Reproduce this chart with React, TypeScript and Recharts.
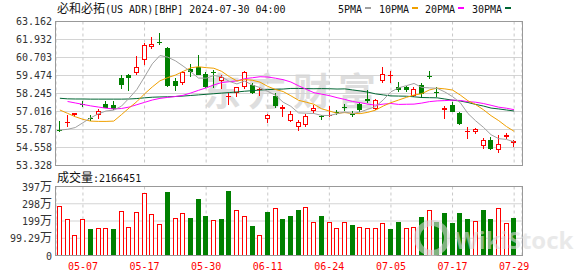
import { ComposedChart, Bar, Line, XAxis, YAxis, CartesianGrid } from 'recharts';

// BHP US ADR daily, 2024-05-02 .. 2024-07-29
const dates = [
  '05-02', '05-03', '05-06', '05-07', '05-08', '05-09', '05-10', '05-13', '05-14', '05-15',
  '05-16', '05-17', '05-20', '05-21', '05-22', '05-23', '05-24', '05-28', '05-29', '05-30',
  '05-31', '06-03', '06-04', '06-05', '06-06', '06-07', '06-10', '06-11', '06-12', '06-13',
  '06-14', '06-17', '06-18', '06-20', '06-21', '06-24', '06-25', '06-26', '06-27', '06-28',
  '07-01', '07-02', '07-03', '07-05', '07-08', '07-09', '07-10', '07-11', '07-12', '07-15',
  '07-16', '07-17', '07-18', '07-19', '07-22', '07-23', '07-24', '07-25', '07-26', '07-29',
];

const opens = [
  55.75, 56.28, 56.8, 57.55, 56.6, 56.8, 57.53, 57.44, 59.3, 59.49,
  59.62, 60.53, 61.44, 61.76, 61.35, 59.12, 58.94, 59.94, 60.08, 59.58,
  59.71, 59.12, 57.99, 58.3, 58.71, 58.85, 58.48, 56.48, 58.07, 57.17,
  56.39, 55.94, 56.12, 57.07, 56.71, 56.74, 56.98, 57.32, 56.84, 57.53,
  57.89, 57.21, 59.08, 59.49, 58.67, 58.67, 58.07, 58.8, 59.41, 58.37,
  57.12, 57.44, 56.93, 55.64, 55.62, 54.66, 55.07, 54.39, 55.25, 54.84,
];
const highs = [
  56.35, 56.76, 56.93, 57.71, 56.8, 57.21, 57.75, 57.75, 59.49, 59.58,
  60.8, 61.67, 62.08, 62.36, 61.4, 59.3, 59.76, 60.26, 60.85, 59.71,
  59.85, 59.49, 58.26, 58.71, 59.8, 58.94, 58.62, 56.84, 58.26, 57.44,
  57.03, 56.44, 56.84, 57.44, 56.8, 57.39, 57.12, 57.53, 57.03, 57.62,
  58.48, 57.89, 60.03, 59.76, 59.03, 58.76, 58.71, 58.98, 59.76, 58.67,
  57.39, 57.67, 56.98, 55.94, 55.89, 55.21, 55.25, 55.39, 55.57, 55.07,
];
const lows = [
  55.62, 55.98, 56.66, 57.3, 56.39, 56.48, 57.23, 57.12, 58.57, 58.4,
  59.49, 60.21, 61.3, 61.54, 58.7, 58.4, 58.85, 59.39, 59.49, 58.62,
  58.62, 58.53, 57.44, 58.03, 58.53, 58.21, 58.07, 56.25, 57.25, 56.66,
  56.3, 55.71, 55.98, 56.89, 56.44, 56.66, 56.76, 57.07, 56.66, 56.98,
  57.58, 57.12, 58.94, 58.94, 58.35, 58.35, 57.99, 57.94, 59.21, 58.03,
  56.52, 56.98, 56.12, 55.16, 55.48, 54.48, 54.39, 54.2, 55.16, 54.61,
];
const closes = [
  55.67, 56.31, 56.89, 57.5, 56.55, 57.07, 57.26, 57.17, 58.85, 59.3,
  60.03, 61.54, 61.62, 61.71, 58.74, 58.78, 59.74, 59.7, 59.53, 58.71,
  59.67, 59.39, 58.07, 58.67, 59.71, 58.26, 58.53, 56.8, 57.36, 57.3,
  56.84, 56.3, 56.71, 57.26, 56.64, 56.78, 56.92, 57.28, 56.8, 57.12,
  57.75, 57.8, 59.58, 59.53, 58.48, 58.5, 58.57, 58.21, 59.37, 58.33,
  57.26, 56.98, 56.16, 55.68, 55.8, 55.07, 54.43, 54.8, 55.43, 54.98,
];
// close of the session before 05-02, only used to colour the first volume bar
const prevClose = 55.5;

const volumes = [
  2850000, 2080000, 1160000, 2080000, 1520000, 1560000, 1560000, 1520000, 2560000, 1640000,
  2490000, 3590000, 2370000, 1790000, 3660000, 2140000, 2430000, 2140000, 3260000, 2280000,
  2040000, 2100000, 3720000, 2620000, 2280000, 1700000, 1160000, 2510000, 2720000, 2100000,
  2280000, 2620000, 2780000, 1910000, 2280000, 1910000, 1560000, 1910000, 1740000, 1620000,
  1560000, 1560000, 1850000, 1520000, 1930000, 1560000, 1620000, 2220000, 2600000, 1930000,
  2450000, 1870000, 2450000, 2080000, 1970000, 2620000, 2080000, 2720000, 1850000, 2166451,
];

const ma5 = [
  55.75, 55.8, 55.92, 56.25, 56.58, 56.86, 57.05, 57.11, 57.38, 57.93,
  58.52, 59.38, 60.27, 60.84, 60.73, 60.48, 60.12, 59.73, 59.3, 59.29,
  59.47, 59.4, 59.07, 58.9, 59.1, 58.82, 58.65, 58.39, 58.13, 57.65,
  57.37, 56.92, 56.9, 56.88, 56.75, 56.74, 56.86, 56.98, 56.88, 56.98,
  57.17, 57.35, 57.81, 58.36, 58.63, 58.78, 58.93, 58.66, 58.63, 58.6,
  58.35, 58.03, 57.62, 56.88, 56.38, 55.94, 55.43, 55.16, 55.11, 54.94,
];
const ma10 = [
  57.12, 56.89, 56.66, 56.48, 56.36, 56.34, 56.34, 56.36, 56.8, 57.26,
  57.69, 58.22, 58.69, 59.11, 59.33, 59.5, 59.75, 60.0, 60.07, 60.01,
  59.97, 59.76, 59.4, 59.1, 59.2, 59.15, 59.02, 58.73, 58.52, 58.38,
  58.09, 57.78, 57.65, 57.51, 57.2, 57.05, 56.89, 56.94, 56.88, 56.87,
  56.96, 57.11, 57.39, 57.62, 57.8, 57.98, 58.14, 58.23, 58.49, 58.61,
  58.56, 58.48, 58.14, 57.75, 57.49, 57.14, 56.73, 56.39, 55.99, 55.66,
];
const ma20 = [
  null, 57.7, 57.6, 57.5, 57.4, 57.32, 57.24, 57.19, 57.22, 57.32,
  57.48, 57.64, 57.8, 57.91, 57.98, 58.04, 58.12, 58.28, 58.46, 58.63,
  58.83, 58.99, 59.05, 59.11, 59.26, 59.32, 59.39, 59.37, 59.29, 59.19,
  59.03, 58.77, 58.53, 58.3, 58.2, 58.1, 57.96, 57.84, 57.7, 57.62,
  57.52, 57.45, 57.52, 57.56, 57.5, 57.51, 57.52, 57.59, 57.69, 57.74,
  57.76, 57.79, 57.77, 57.69, 57.65, 57.56, 57.44, 57.31, 57.24, 57.14,
];
const ma30 = [
  57.92, 57.88, 57.87, 57.87, 57.86, 57.86, 57.86, 57.86, 57.86, 57.87,
  57.9, 57.95, 57.99, 58.01, 58.02, 58.04, 58.07, 58.11, 58.15, 58.19,
  58.23, 58.27, 58.31, 58.35, 58.4, 58.44, 58.48, 58.51, 58.53, 58.55,
  58.59, 58.59, 58.58, 58.57, 58.58, 58.57, 58.55, 58.56, 58.49, 58.42,
  58.34, 58.22, 58.15, 58.08, 58.07, 58.06, 58.02, 57.97, 57.96, 57.95,
  57.87, 57.79, 57.73, 57.63, 57.5, 57.39, 57.25, 57.19, 57.12, 57.05,
];

const priceTicks = [53.328, 54.558, 55.787, 57.016, 58.245, 59.474, 60.703, 61.932, 63.162];
const volTicks = [0, 992900, 1985800, 2978700, 3971600];
const volTickLabels = ['0', '99.29万', '199万', '298万', '397万'];
const dateTicks = ['05-07', '05-17', '05-30', '06-11', '06-24', '07-05', '07-17', '07-29'];

const title = '必和必拓(US ADR)[BHP] 2024-07-30 04:00';

const RED = '#ff0000';
const GREEN = '#008000';
const MA_COLORS = { ma5: '#a0a0a0', ma10: '#f0a000', ma20: '#ff00ff', ma30: '#006633' };
const legendItems = [
  { label: '5PMA', color: MA_COLORS.ma5, x: 338 },
  { label: '10PMA', color: MA_COLORS.ma10, x: 379 },
  { label: '20PMA', color: MA_COLORS.ma20, x: 425 },
  { label: '30PMA', color: MA_COLORS.ma30, x: 472 },
];

const MONO = '"DejaVu Sans Mono", monospace';
const CJK = '"Noto Sans CJK SC", sans-serif';

const priceRows = dates.map((date, i) => ({
  date,
  range: [lows[i], highs[i]],
  open: opens[i],
  high: highs[i],
  low: lows[i],
  close: closes[i],
  ma5: ma5[i],
  ma10: ma10[i],
  ma20: ma20[i],
  ma30: ma30[i],
}));

const volumeRows = dates.map((date, i) => ({
  date,
  volume: volumes[i],
  up: closes[i] >= (i === 0 ? prevClose : closes[i - 1]),
}));

// latin runs in a 6px-wide mono face, CJK runs at 12px (like SimSun 12px)
function MixedText({ text, x, y, anchor = 'start', fill = '#000' }: {
  text: string; x: number; y: number; anchor?: 'start' | 'end' | 'middle'; fill?: string;
}) {
  const parts = text.match(/[\x00-\x7f]+|[^\x00-\x7f]+/g) ?? [];
  return (
    <text x={x} y={y} textAnchor={anchor} fill={fill} style={{ whiteSpace: 'pre' }}>
      {parts.map((p, i) => {
        const latin = /^[\x00-\x7f]/.test(p);
        return (
          <tspan key={i} fontFamily={latin ? MONO : CJK} fontSize={latin ? 10 : 12}>
            {p}
          </tspan>
        );
      })}
    </text>
  );
}

function Candle(props: any) {
  const { x, y, width, height, payload } = props;
  if (!payload || x == null) return null;
  const { open, close, high, low } = payload;
  const top = Math.min(y, y + height);
  const bottom = Math.max(y, y + height);
  const k = (bottom - top) / (high - low || 1);
  const py = (v: number) => top + (high - v) * k;
  const cx = Math.floor(x + width / 2) + 0.5;
  const up = close >= open;
  const color = up ? RED : GREEN;
  const bTop = Math.round(py(Math.max(open, close)));
  const bBot = Math.round(py(Math.min(open, close)));
  const hollow = up && bBot - bTop >= 3;
  return (
    <g>
      <line x1={cx} x2={cx} y1={Math.round(py(high))} y2={Math.round(py(low))} stroke={color} />
      {hollow ? (
        <rect x={cx - 2} y={bTop + 0.5} width={4} height={bBot - bTop - 1} fill="#fff" stroke={color} />
      ) : (
        <rect x={cx - 2.5} y={bTop} width={5} height={Math.max(bBot - bTop, 1)} fill={color} />
      )}
    </g>
  );
}

function VolumeBar(props: any) {
  const { x, y, width, height, payload } = props;
  if (!payload || x == null) return null;
  const cx = Math.floor(x + width / 2) + 0.5;
  const top = Math.round(y);
  const bottom = Math.round(y + height);
  if (payload.up) {
    return <rect x={cx - 2} y={top + 0.5} width={4} height={bottom - top - 1} fill="#fff" stroke={RED} />;
  }
  return <rect x={cx - 2.5} y={top} width={5} height={bottom - top} fill={GREEN} />;
}

const PriceTick = ({ x, y, payload }: any) => (
  <text x={x} y={y + 3.5} textAnchor="end" fontFamily={MONO} fontSize={10} fill="#333">
    {Number(payload.value).toFixed(3)}
  </text>
);

const VolTick = ({ x, y, payload }: any) => (
  <MixedText
    text={volTickLabels[volTicks.indexOf(payload.value)] ?? ''}
    x={x}
    y={y + 4}
    anchor="end"
    fill="#333"
  />
);

const DateTick = ({ x, y, payload }: any) => (
  <text x={x} y={y + 14} textAnchor="middle" fontFamily={MONO} fontSize={10} fill={RED}>
    {payload.value}
  </text>
);

export default function App() {
  const lastVolume = volumes[volumes.length - 1];
  return (
    <div style={{ position: 'absolute', left: 0, top: 0, width: 578, height: 276, background: '#fff', overflow: 'hidden' }}>
      {/* background watermark */}
      <svg width={578} height={276} style={{ position: 'absolute', left: 0, top: 0 }}>
        <text x={203} y={105} fontFamily={CJK} fontWeight={700} fontSize={38} letterSpacing={7} fill="#dedede">
          东方财富
        </text>
      </svg>

      <div style={{ position: 'absolute', left: 0, top: 0 }}>
        <ComposedChart width={578} height={170} data={priceRows} margin={{ top: 21.5, right: 56, bottom: 4.5, left: 0 }}>
          <CartesianGrid vertical={false} stroke="#d4d4d4" />
          <CartesianGrid horizontal={false} stroke="#c8c8c8" strokeDasharray="3 3" />
          <XAxis dataKey="date" hide ticks={dateTicks} interval={0} padding={{ left: 0, right: 4 }} />
          <YAxis
            type="number"
            width={56}
            domain={[priceTicks[0], priceTicks[priceTicks.length - 1]]}
            ticks={priceTicks}
            interval={0}
            allowDataOverflow
            axisLine={false}
            tickLine={false}
            tickSize={4}
            tickMargin={0}
            tick={PriceTick}
          />
          <Bar dataKey="range" barSize={5} shape={Candle} isAnimationActive={false} />
          <Line type="linear" dataKey="ma30" stroke={MA_COLORS.ma30} dot={false} activeDot={false} strokeWidth={1} isAnimationActive={false} />
          <Line type="linear" dataKey="ma20" stroke={MA_COLORS.ma20} dot={false} activeDot={false} strokeWidth={1} isAnimationActive={false} />
          <Line type="linear" dataKey="ma10" stroke={MA_COLORS.ma10} dot={false} activeDot={false} strokeWidth={1} isAnimationActive={false} />
          <Line type="linear" dataKey="ma5" stroke={MA_COLORS.ma5} dot={false} activeDot={false} strokeWidth={1} isAnimationActive={false} />
        </ComposedChart>
      </div>

      <div style={{ position: 'absolute', left: 0, top: 170 }}>
        <ComposedChart width={578} height={106} data={volumeRows} margin={{ top: 16.5, right: 56, bottom: 0, left: 0 }}>
          <CartesianGrid vertical={false} stroke="#d4d4d4" />
          <CartesianGrid horizontal={false} stroke="#c8c8c8" strokeDasharray="3 3" />
          <XAxis
            dataKey="date"
            ticks={dateTicks}
            interval={0}
            height={20.5}
            padding={{ left: 0, right: 4 }}
            axisLine={false}
            tickLine={false}
            tickSize={0}
            tickMargin={0}
            tick={DateTick}
          />
          <YAxis
            type="number"
            width={56}
            domain={[0, volTicks[volTicks.length - 1]]}
            ticks={volTicks}
            interval={0}
            axisLine={false}
            tickLine={false}
            tickSize={4}
            tickMargin={0}
            tick={VolTick}
          />
          <Bar dataKey="volume" barSize={5} shape={VolumeBar} isAnimationActive={false} />
        </ComposedChart>
      </div>

      {/* frames, captions, legend, foreground watermark */}
      <svg width={578} height={276} style={{ position: 'absolute', left: 0, top: 0, pointerEvents: 'none' }}>
        <rect x={55.5} y={21.5} width={467} height={144} fill="none" stroke="#999" />
        <rect x={55.5} y={186.5} width={467} height={69} fill="none" stroke="#999" />
        <MixedText text={title} x={57} y={12.5} fill="#111" />
        {legendItems.map((item) => (
          <g key={item.label}>
            <MixedText text={item.label} x={item.x} y={12.5} fill="#111" />
            <rect x={item.x + item.label.length * 6 + 3} y={7} width={6} height={2} fill={item.color} />
          </g>
        ))}
        <MixedText text={`成交量:${lastVolume}`} x={57} y={182} fill="#111" />
        <g opacity={0.6}>
          <circle cx={432} cy={238} r={15} fill="none" stroke="#d6d6d6" strokeWidth={6} />
          <text x={455} y={249} fontFamily='"Open Sans", sans-serif' fontWeight={700} fontSize={24} fill="#dcdcdc">
            WikiStock
          </text>
        </g>
      </svg>
    </div>
  );
}
